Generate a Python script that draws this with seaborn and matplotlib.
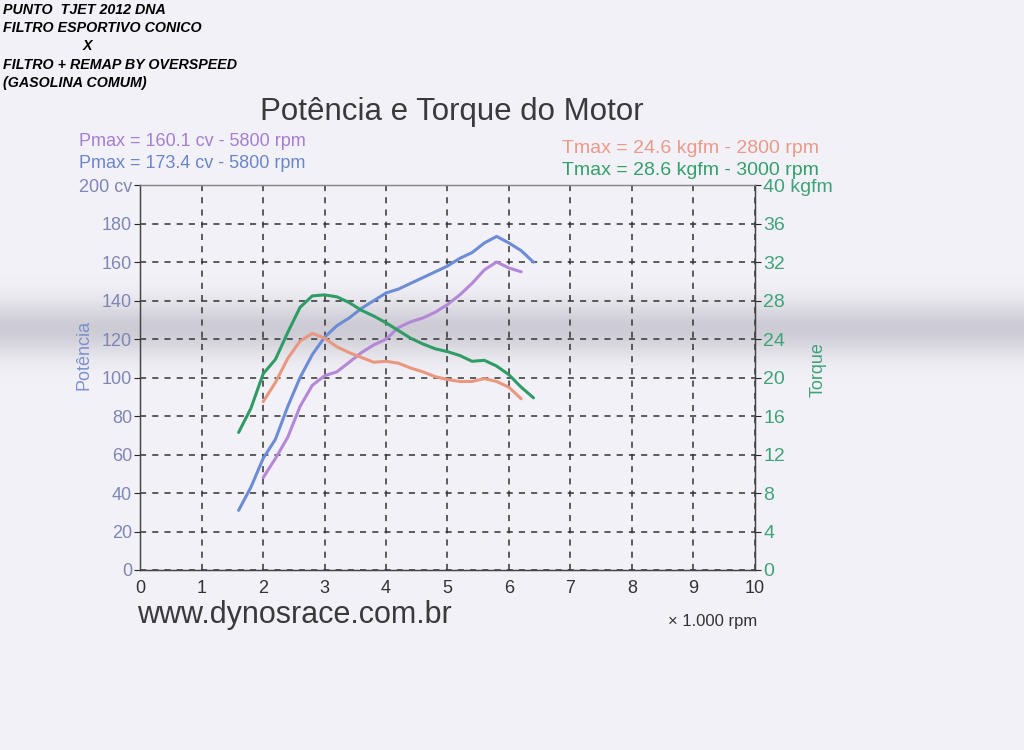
import numpy as np
import pandas as pd
import matplotlib
matplotlib.use("Agg")
import matplotlib.pyplot as plt
from matplotlib.ticker import MultipleLocator
import seaborn as sns

# Power curves (cv) vs rpm (x 1000)
rpm_remap = [1.6, 1.8, 2.0, 2.2, 2.4, 2.6, 2.8, 3.0, 3.2, 3.4, 3.6, 3.8, 4.0,
             4.2, 4.4, 4.6, 4.8, 5.0, 5.2, 5.4, 5.6, 5.8, 6.0, 6.2, 6.4]
pot_remap = [31, 43, 58, 68, 85, 100, 112, 121, 127, 131, 136, 140, 144,
             146, 149, 152, 155, 158, 162, 165, 170, 173.4, 170, 166, 160]

rpm_filtro = [2.0, 2.2, 2.4, 2.6, 2.8, 3.0, 3.2, 3.4, 3.6, 3.8, 4.0,
              4.2, 4.4, 4.6, 4.8, 5.0, 5.2, 5.4, 5.6, 5.8, 6.0, 6.2]
pot_filtro = [48, 58, 69, 85, 96, 101, 103, 108, 113, 117, 120,
              126, 129, 131, 134, 138, 143, 149, 156, 160.1, 157, 155]

# Torque curves (kgfm)
tor_filtro = [17.5, 19.5, 22.0, 23.8, 24.6, 24.1, 23.2, 22.6, 22.1, 21.6, 21.7,
              21.5, 21.0, 20.6, 20.1, 19.8, 19.6, 19.6, 19.9, 19.6, 19.0, 17.8]
tor_remap = [14.3, 16.8, 20.4, 21.9, 24.7, 27.3, 28.5, 28.6, 28.4, 27.8, 27.0, 26.4, 25.7,
             24.9, 24.1, 23.5, 23.0, 22.7, 22.3, 21.7, 21.8, 21.2, 20.3, 19.0, 17.9]

x_ticks = list(range(0, 11))
pot_ticks = [0, 20, 40, 60, 80, 100, 120, 140, 160, 180, 200]
pot_labels = ["0", "20", "40", "60", "80", "100", "120", "140", "160", "180", "200 cv"]
tor_ticks = [0, 4, 8, 12, 16, 20, 24, 28, 32, 36, 40]
tor_labels = ["0", "4", "8", "12", "16", "20", "24", "28", "32", "36", "40 kgfm"]

c_purple = "#b487d8"
c_blue = "#6c8cd6"
c_orange = "#e9977e"
c_green = "#2f9c66"

sns.set_style("white")
plt.rcParams["font.family"] = ["Liberation Sans", "DejaVu Sans"]

fig = plt.figure(figsize=(10.24, 7.5), dpi=100)

# scanned paper background with a grey fold band
bg = fig.add_axes([0, 0, 1, 1], zorder=-10)
rows = np.arange(750)
dark = 0.15 * np.exp(-((rows - 328) / 27.0) ** 2)
paper = np.array([0.955, 0.948, 0.975])
img = paper[None, None, :] - dark[:, None, None] * np.array([1.0, 1.0, 0.97])[None, None, :]
img = np.repeat(img, 4, axis=1)
bg.imshow(np.clip(img, 0, 1), aspect="auto", extent=[0, 1, 0, 1])
bg.axis("off")

ax = fig.add_axes([0.137, 0.24, 0.6, 0.513])
ax.patch.set_alpha(0)

df_remap = pd.DataFrame({"rpm": rpm_remap, "pot": pot_remap})
df_filtro = pd.DataFrame({"rpm": rpm_filtro, "pot": pot_filtro})
sns.lineplot(data=df_filtro, x="rpm", y="pot", ax=ax, color=c_purple, lw=2.2)
sns.lineplot(data=df_remap, x="rpm", y="pot", ax=ax, color=c_blue, lw=2.2)

ax.set_xlim(0, 10)
ax.set_ylim(0, 200)
ax.set_xticks(x_ticks)
ax.set_xticklabels([str(t) for t in x_ticks], fontsize=13, color="#333333")
ax.set_yticks(pot_ticks)
ax.set_yticklabels(pot_labels, fontsize=13, color="#7d86b5")
ax.xaxis.set_minor_locator(MultipleLocator(0.2))
ax.tick_params(axis="x", which="major", direction="in", length=5, pad=7)
ax.tick_params(axis="x", which="minor", direction="in", length=3)
ax.tick_params(axis="y", direction="out", length=4, pad=2, left=True)
ax.grid(True, ls=(0, (4, 4)), color="#333333", lw=1.1)
ax.set_xlabel("")
ax.set_ylabel("Potência", fontsize=13, color="#7d90d0")
ax.yaxis.set_label_coords(-0.077, 0.56)
for s in ax.spines.values():
    s.set_color("#444444")
    s.set_linewidth(1.0)
ax.spines["top"].set_color("#888888")

ax2 = ax.twinx()
df_tf = pd.DataFrame({"rpm": rpm_filtro, "tor": tor_filtro})
df_tr = pd.DataFrame({"rpm": rpm_remap, "tor": tor_remap})
sns.lineplot(data=df_tf, x="rpm", y="tor", ax=ax2, color=c_orange, lw=2.2)
sns.lineplot(data=df_tr, x="rpm", y="tor", ax=ax2, color=c_green, lw=2.2)
ax2.set_ylim(0, 40)
ax2.set_yticks(tor_ticks)
ax2.set_yticklabels(tor_labels, fontsize=14, color="#3fa377")
ax2.tick_params(axis="y", direction="out", length=4, pad=2)
ax2.set_ylabel("Torque", fontsize=13, color="#3fa377")
ax2.yaxis.set_label_coords(1.09, 0.52)
ax2.grid(False)
for s in ax2.spines.values():
    s.set_color("#444444")
ax2.spines["top"].set_color("#888888")

fig.text(0.441, 0.851, "Potência e Torque do Motor", fontsize=22.5, color="#3a3a3a",
         ha="center", va="center")
fig.text(0.077, 0.812, "Pmax = 160.1 cv - 5800 rpm", fontsize=13, color="#a57ed0", va="center")
fig.text(0.077, 0.782, "Pmax = 173.4 cv - 5800 rpm", fontsize=13, color="#6a86c8", va="center")
fig.text(0.800, 0.802, "Tmax = 24.6 kgfm - 2800 rpm", fontsize=14, color="#e99a88",
         ha="right", va="center")
fig.text(0.800, 0.773, "Tmax = 28.6 kgfm - 3000 rpm", fontsize=14, color="#33a06a",
         ha="right", va="center")
fig.text(0.134, 0.180, "www.dynosrace.com.br", fontsize=22, color="#3a3a3a", va="center")
fig.text(0.652, 0.171, "× 1.000 rpm", fontsize=12, color="#333333", va="center")

hdr = ["PUNTO  TJET 2012 DNA", "FILTRO ESPORTIVO CONICO", "                    X",
       "FILTRO + REMAP BY OVERSPEED", "(GASOLINA COMUM)"]
for i, line in enumerate(hdr):
    fig.text(0.003, 0.986 - i * 0.024, line, fontsize=10.3, fontweight="bold",
             fontstyle="italic", color="black", va="center")

fig.savefig("out.png", dpi=100)
